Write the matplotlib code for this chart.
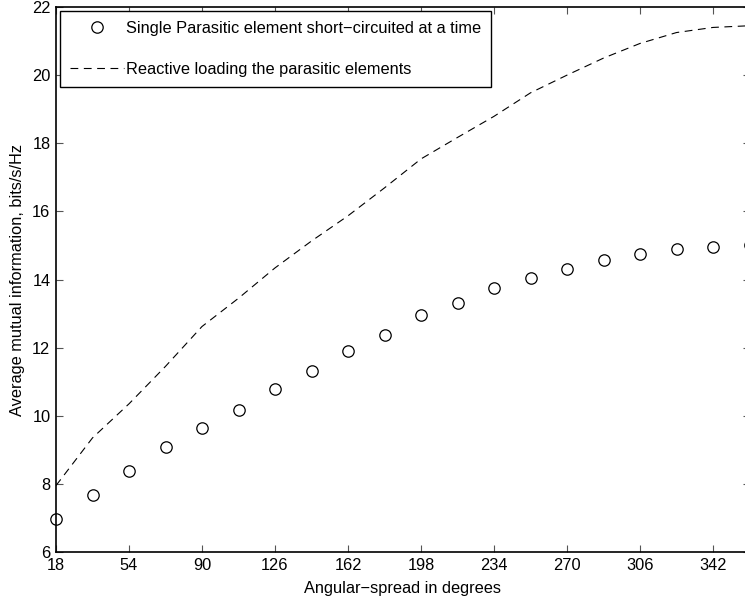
import matplotlib
matplotlib.use("Agg")
import matplotlib.pyplot as plt

plt.rcParams["font.family"] = ["Liberation Sans", "DejaVu Sans"]

angle = [18, 36, 54, 72, 90, 108, 126, 144, 162, 180, 198, 216, 234, 252, 270, 288, 306, 324, 342, 360]
single_short = [6.97, 7.67, 8.39, 9.09, 9.65, 10.16, 10.79, 11.31, 11.89, 12.36,
                12.96, 13.30, 13.75, 14.04, 14.31, 14.57, 14.74, 14.90, 14.96, 15.01]
reactive = [7.95, 9.35, 10.35, 11.45, 12.62, 13.45, 14.34, 15.13, 15.87, 16.69,
            17.54, 18.17, 18.79, 19.48, 20.0, 20.5, 20.93, 21.25, 21.40, 21.45]
xticks = [18, 54, 90, 126, 162, 198, 234, 270, 306, 342]
yticks = [6, 8, 10, 12, 14, 16, 18, 20, 22]

fs = 11.8
fig = plt.figure(figsize=(7.45, 6), dpi=100)
ax = fig.add_axes([56 / 745, 48 / 600, (749.5 - 56) / 745, (552 - 7) / 600])

ax.plot(angle, single_short, "o", mfc="none", mec="black", ms=8.2, mew=0.9,
        label="Single Parasitic element short\u2212circuited at a time", clip_on=False)
ax.plot(angle, reactive, "--", color="black", lw=0.8, dashes=(7, 5),
        label="Reactive loading the parasitic elements")

ax.set_xlim(18, 360)
ax.set_ylim(6, 22)
ax.set_xticks(xticks)
ax.set_yticks(yticks)
ax.tick_params(direction="in", top=True, right=True, length=5, width=0.8,
               color="#555555", labelsize=fs, pad=4)
for s in ax.spines.values():
    s.set_linewidth(1.2)

ax.set_xlabel("Angular\u2212spread in degrees", fontsize=fs, labelpad=6)
ax.set_ylabel("Average mutual information, bits/s/Hz", fontsize=fs, labelpad=5)

leg = ax.legend(loc="upper left", fontsize=fs, frameon=True, fancybox=False,
                edgecolor="black", framealpha=1, borderaxespad=0.25,
                handlelength=3.3, handletextpad=0.15, labelspacing=1.6,
                borderpad=0.6)
leg.get_frame().set_linewidth(1.0)

plt.savefig("out.png", dpi=100)
